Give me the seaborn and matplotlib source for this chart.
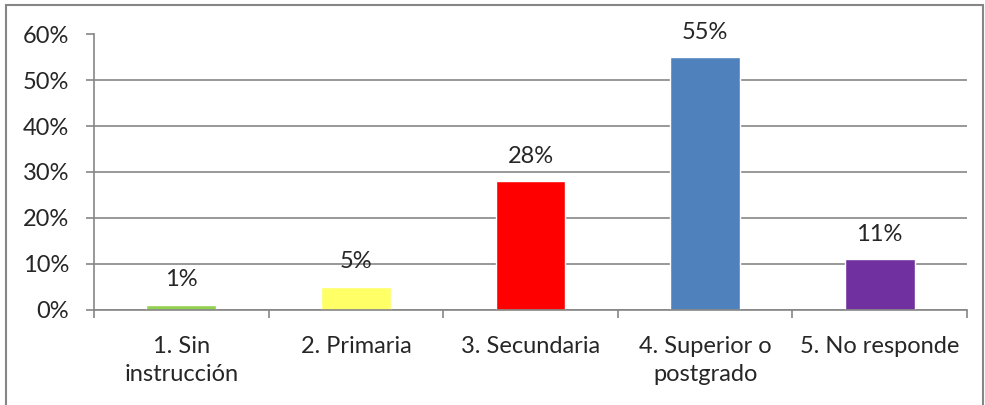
import numpy as np
import pandas as pd
import seaborn as sns
import matplotlib.pyplot as plt
from matplotlib.patches import Rectangle
from matplotlib.ticker import FixedLocator, PercentFormatter

# datos
categorias = ["1. Sin\ninstrucción", "2. Primaria", "3. Secundaria",
              "4. Superior o\npostgrado", "5. No responde"]
valores = [0.01, 0.05, 0.28, 0.55, 0.11]
etiquetas = ["1%", "5%", "28%", "55%", "11%"]
colores = ["#92D050", "#FFFF66", "#FF0000", "#4F81BD", "#7030A0"]

df = pd.DataFrame({"cat": categorias, "val": valores})

sns.set_style("white")
plt.rcParams["font.family"] = ["Lato", "DejaVu Sans"]

fig = plt.figure(figsize=(9.85, 4.05), dpi=100)
ax = fig.add_axes([94 / 985, 1 - 309.5 / 405, (967 - 94) / 985, (309.5 - 34.5) / 405])

sns.barplot(data=df, x="cat", y="val", hue="cat", palette=colores,
            width=0.4, legend=False, ax=ax, saturation=1)

gris = "#868686"
fs = 17
ax.set_ylim(0, 0.6)
ax.set_xlim(-0.5, len(categorias) - 0.5)
ax.set_yticks(np.arange(0, 0.61, 0.1))
ax.yaxis.set_major_formatter(PercentFormatter(1.0, decimals=0))
ax.yaxis.grid(True, color=gris, linewidth=1.2)
ax.set_axisbelow(True)
ax.set_xlabel("")
ax.set_ylabel("")

for s in ["top", "right"]:
    ax.spines[s].set_visible(False)
for s in ["left", "bottom"]:
    ax.spines[s].set_color(gris)
    ax.spines[s].set_linewidth(1.2)

ax.tick_params(axis="y", left=True, length=6, width=1.2, color=gris, pad=12, labelsize=fs)
ax.tick_params(axis="x", which="major", bottom=False, length=0, pad=19, labelsize=fs)
ax.xaxis.set_minor_locator(FixedLocator(np.arange(-0.5, len(categorias), 1.0)))
ax.tick_params(axis="x", which="minor", bottom=True, length=6, width=1.2, color=gris)
for t in ax.get_xticklabels():
    t.set_linespacing(1.4)

for i, (v, lab) in enumerate(zip(valores, etiquetas)):
    ax.annotate(lab, (i, v), xytext=(0, 18), textcoords="offset points",
                ha="center", va="center", fontsize=fs)

# borde del gráfico
fig.patches.append(Rectangle((6 / 985, -0.05), (983 - 6) / 985, 1 - 5 / 405 + 0.05,
                             transform=fig.transFigure, fill=False,
                             edgecolor=gris, linewidth=1.5))

fig.savefig("out.png", dpi=100)
